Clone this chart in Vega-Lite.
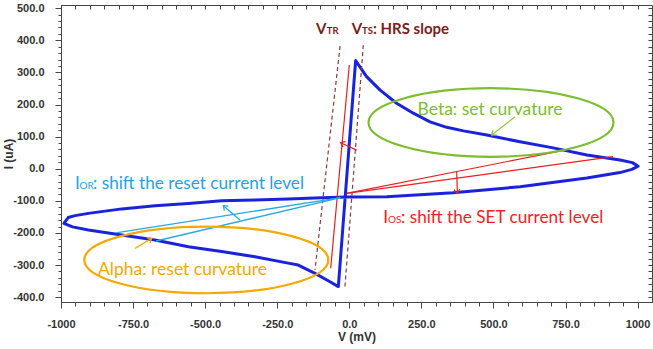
{
  "$schema": "https://vega.github.io/schema/vega-lite/v6.json",
  "width": 591,
  "height": 297,
  "autosize": {"type": "none"},
  "padding": {"left": 61, "top": 5, "right": 1, "bottom": 47},
  "config": {
    "view": {"stroke": "#444", "strokeWidth": 1},
    "axis": {"grid": false, "domainColor": "#444", "tickColor": "#444"}
  },
  "resolve": {"axis": {"x": "independent", "y": "independent"}},
  "layer": [
    {
      "data": {"values": [
        {"k":0,"V":-8,"I":-88},{"k":1,"V":130,"I":-87},{"k":2,"V":360,"I":-75},{"k":3,"V":592,"I":-56},
        {"k":4,"V":824,"I":-29},{"k":5,"V":939,"I":-12},{"k":6,"V":980,"I":-2},{"k":7,"V":1002,"I":8},
        {"k":8,"V":982,"I":19},{"k":9,"V":939,"I":27},{"k":10,"V":824,"I":43},{"k":11,"V":707,"I":65},
        {"k":12,"V":592,"I":84},{"k":13,"V":477,"I":105},{"k":14,"V":396,"I":118},{"k":15,"V":338,"I":129},
        {"k":16,"V":280,"I":146},{"k":17,"V":222,"I":173},{"k":18,"V":164,"I":204},{"k":19,"V":107,"I":245},
        {"k":20,"V":60,"I":287},{"k":21,"V":22,"I":337},{"k":22,"V":-38,"I":-367},{"k":23,"V":-67,"I":-352},
        {"k":24,"V":-119,"I":-326},{"k":25,"V":-177,"I":-300},{"k":26,"V":-212,"I":-294},{"k":27,"V":-327,"I":-274},
        {"k":28,"V":-443,"I":-258},{"k":29,"V":-558,"I":-243},{"k":30,"V":-674,"I":-222},{"k":31,"V":-807,"I":-204},
        {"k":32,"V":-905,"I":-191},{"k":33,"V":-960,"I":-181},{"k":34,"V":-990,"I":-170},{"k":35,"V":-975,"I":-152},
        {"k":36,"V":-951,"I":-146},{"k":37,"V":-905,"I":-139},{"k":38,"V":-789,"I":-125},{"k":39,"V":-674,"I":-115},
        {"k":40,"V":-558,"I":-108},{"k":41,"V":-443,"I":-100},{"k":42,"V":-327,"I":-97},{"k":43,"V":-212,"I":-94},
        {"k":44,"V":-96,"I":-90},{"k":45,"V":-8,"I":-88}
      ]},
      "mark": {"type": "line", "color": "#1a22dc", "strokeWidth": 3, "strokeJoin": "round"},
      "encoding": {
        "x": {"field": "V", "type": "quantitative",
          "scale": {"domain": [-1000, 1050], "nice": false, "zero": false},
          "axis": {"orient": "bottom", "values": [-1000,-750,-500,-250,0,250,500,750,1000],
            "labelExpr": "datum.value == -1000 ? '-1000' : datum.value == 1000 ? '1000' : (datum.value < 0 ? '-' : '') + format(abs(datum.value), '.1f')",
            "tickSize": 6, "labelPadding": 10, "labelDx": 4, "labelFlush": false,
            "labelFont": "Liberation Sans Narrow, Liberation Sans, sans-serif", "labelFontSize": 11, "labelFontWeight": "bold", "labelColor": "#333",
            "title": "V (mV)", "titleFont": "Liberation Sans Narrow, Liberation Sans, sans-serif", "titleFontSize": 12, "titleFontWeight": "bold", "titleColor": "#333", "titlePadding": 2}},
        "y": {"field": "I", "type": "quantitative",
          "scale": {"domain": [-415, 510], "nice": false, "zero": false},
          "axis": {"orient": "left", "values": [-400,-300,-200,-100,0,100,200,300,400,500],
            "labelExpr": "(datum.value < 0 ? '-' : '') + format(abs(datum.value), '.1f')",
            "tickSize": 6, "labelPadding": 11, "labelFlush": false,
            "labelFont": "Liberation Sans Narrow, Liberation Sans, sans-serif", "labelFontSize": 11, "labelFontWeight": "bold", "labelColor": "#333",
            "title": "I (uA)", "titleFont": "Liberation Sans Narrow, Liberation Sans, sans-serif", "titleFontSize": 12, "titleFontWeight": "bold", "titleColor": "#333", "titlePadding": -3}},
        "order": {"field": "k", "type": "quantitative"}
      }
    },
    {
      "data": {"values": [
        {"V": -32, "I": 382, "V2": -119, "I2": -315},
        {"V": 48.6, "I": 385, "V2": -15, "I2": -367}
      ]},
      "mark": {"type": "rule", "color": "#8b3a3a", "strokeWidth": 1.2, "strokeDash": [4, 3]},
      "encoding": {
        "x": {"field": "V", "type": "quantitative",
          "axis": {"orient": "bottom", "values": [-1000,-950,-900,-850,-800,-750,-700,-650,-600,-550,-500,-450,-400,-350,-300,-250,-200,-150,-100,-50,0,50,100,150,200,250,300,350,400,450,500,550,600,650,700,750,800,850,900,950,1000],
            "labels": false, "domain": false, "tickSize": 4, "title": null}},
        "y": {"field": "I", "type": "quantitative",
          "axis": {"orient": "left", "values": [-400,-380,-360,-340,-320,-300,-280,-260,-240,-220,-200,-180,-160,-140,-120,-100,-80,-60,-40,-20,0,20,40,60,80,100,120,140,160,180,200,220,240,260,280,300,320,340,360,380,400,420,440,460,480,500],
            "labels": false, "domain": false, "tickSize": 3, "title": null}},
        "x2": {"field": "V2"},
        "y2": {"field": "I2"}
      }
    },
    {
      "data": {"values": [
        {"V": 0, "I": 323, "V2": -64.5, "I2": -310},
        {"V": -9, "I": -76.5, "V2": 748, "I2": 58},
        {"V": -9, "I": -76.5, "V2": 915, "I2": 37.5},
        {"V": 25.7, "I": 58, "V2": -29.8, "I2": 81},
        {"V": 372.6, "I": -10, "V2": 375, "I2": -76.5}
      ]},
      "mark": {"type": "rule", "color": "#e82020", "strokeWidth": 1.2},
      "encoding": {
        "x": {"field": "V", "type": "quantitative",
          "axis": {"orient": "top", "values": [-1000,-950,-900,-850,-800,-750,-700,-650,-600,-550,-500,-450,-400,-350,-300,-250,-200,-150,-100,-50,0,50,100,150,200,250,300,350,400,450,500,550,600,650,700,750,800,850,900,950,1000],
            "labels": false, "domain": false, "tickSize": -4, "title": null}},
        "y": {"field": "I", "type": "quantitative",
          "axis": {"orient": "right", "values": [-400,-380,-360,-340,-320,-300,-280,-260,-240,-220,-200,-180,-160,-140,-120,-100,-80,-60,-40,-20,0,20,40,60,80,100,120,140,160,180,200,220,240,260,280,300,320,340,360,380,400,420,440,460,480,500],
            "labels": false, "domain": false, "tickSize": -4, "title": null}},
        "x2": {"field": "V2"},
        "y2": {"field": "I2"}
      }
    },
    {
      "data": {"values": [
        {"V": -30, "I": -90, "V2": -810, "I2": -200},
        {"V": -30, "I": -90, "V2": -670, "I2": -225},
        {"V": -379, "I": -159.6, "V2": -437, "I2": -115}
      ]},
      "mark": {"type": "rule", "color": "#29a8e0", "strokeWidth": 1.3},
      "encoding": {
        "x": {"field": "V", "type": "quantitative", "axis": null},
        "y": {"field": "I", "type": "quantitative", "axis": null},
        "x2": {"field": "V2"}, "y2": {"field": "I2"}
      }
    },
    {
      "data": {"values": [{"V": -743, "I": -248, "V2": -685, "I2": -216.6}]},
      "mark": {"type": "rule", "color": "#f5a800", "strokeWidth": 1.2},
      "encoding": {
        "x": {"field": "V", "type": "quantitative", "axis": null},
        "y": {"field": "I", "type": "quantitative", "axis": null},
        "x2": {"field": "V2"}, "y2": {"field": "I2"}
      }
    },
    {
      "data": {"values": [{"V": 575, "I": 162, "V2": 494, "I2": 105}]},
      "mark": {"type": "rule", "color": "#8cc63f", "strokeWidth": 1.2},
      "encoding": {
        "x": {"field": "V", "type": "quantitative", "axis": null},
        "y": {"field": "I", "type": "quantitative", "axis": null},
        "x2": {"field": "V2"}, "y2": {"field": "I2"}
      }
    },
    {
      "data": {"values": [{"V": -29.8, "I": 81}]},
      "mark": {"type": "point", "shape": "M-0.6,0.8L0,0L0.6,0.8", "filled": false, "size": 100, "angle": 294, "color": "#e82020", "strokeWidth": 1.2, "opacity": 1},
      "encoding": {"x": {"field": "V", "type": "quantitative", "axis": null}, "y": {"field": "I", "type": "quantitative", "axis": null}}
    },
    {
      "data": {"values": [{"V": 375, "I": -76.5}]},
      "mark": {"type": "point", "shape": "M-0.6,0.8L0,0L0.6,0.8", "filled": false, "size": 100, "angle": 173, "color": "#e82020", "strokeWidth": 1.2, "opacity": 1},
      "encoding": {"x": {"field": "V", "type": "quantitative", "axis": null}, "y": {"field": "I", "type": "quantitative", "axis": null}}
    },
    {
      "data": {"values": [{"V": -437, "I": -115}]},
      "mark": {"type": "point", "shape": "M-0.6,0.8L0,0L0.6,0.8", "filled": false, "size": 100, "angle": -49, "color": "#29a8e0", "strokeWidth": 1.3, "opacity": 1},
      "encoding": {"x": {"field": "V", "type": "quantitative", "axis": null}, "y": {"field": "I", "type": "quantitative", "axis": null}}
    },
    {
      "data": {"values": [{"V": -685, "I": -216.6}]},
      "mark": {"type": "point", "shape": "M-0.6,0.8L0,0L0.6,0.8", "filled": false, "size": 100, "angle": 59, "color": "#f5a800", "strokeWidth": 1.2, "opacity": 1},
      "encoding": {"x": {"field": "V", "type": "quantitative", "axis": null}, "y": {"field": "I", "type": "quantitative", "axis": null}}
    },
    {
      "data": {"values": [{"V": 494, "I": 105}]},
      "mark": {"type": "point", "shape": "M-0.6,0.8L0,0L0.6,0.8", "filled": false, "size": 100, "angle": -128, "color": "#8cc63f", "strokeWidth": 1.2, "opacity": 1},
      "encoding": {"x": {"field": "V", "type": "quantitative", "axis": null}, "y": {"field": "I", "type": "quantitative", "axis": null}}
    },
    {
      "data": {"values": [{"V": 491.6, "I": 144}]},
      "mark": {"type": "point", "shape": "M-1,0C-1,-0.155,-0.552,-0.28,0,-0.28C0.552,-0.28,1,-0.155,1,0C1,0.155,0.552,0.28,0,0.28C-0.552,0.28,-1,0.155,-1,0Z", "filled": false, "size": 60025, "color": "#7dbd2f", "strokeWidth": 2.2, "opacity": 1},
      "encoding": {"x": {"field": "V", "type": "quantitative", "axis": null}, "y": {"field": "I", "type": "quantitative", "axis": null}}
    },
    {
      "data": {"values": [{"V": -496, "I": -284}]},
      "mark": {"type": "point", "shape": "M-1,0C-1,-0.151,-0.552,-0.273,0,-0.273C0.552,-0.273,1,-0.151,1,0C1,0.151,0.552,0.273,0,0.273C-0.552,0.273,-1,0.151,-1,0Z", "filled": false, "size": 59536, "color": "#f5a800", "strokeWidth": 2.2, "opacity": 1},
      "encoding": {"x": {"field": "V", "type": "quantitative", "axis": null}, "y": {"field": "I", "type": "quantitative", "axis": null}}
    },
    {
      "data": {"values": [{"t": "V", "V": -115.5, "I": 419.7}, {"t": "V", "V": 8.4, "I": 419.7}, {"t": ": HRS slope", "V": 82.2, "I": 419.7}]},
      "mark": {"type": "text", "align": "left", "baseline": "alphabetic", "font": "Lato", "fontWeight": "bold", "fontSize": 15, "color": "#7b1c1c"},
      "encoding": {"x": {"field": "V", "type": "quantitative", "axis": null}, "y": {"field": "I", "type": "quantitative", "axis": null}, "text": {"field": "t"}}
    },
    {
      "data": {"values": [{"t": "TR", "V": -78.4, "I": 419.7}, {"t": "TS", "V": 44.1, "I": 419.7}]},
      "mark": {"type": "text", "align": "left", "baseline": "alphabetic", "font": "Lato", "fontWeight": "bold", "fontSize": 9.5, "color": "#7b1c1c"},
      "encoding": {"x": {"field": "V", "type": "quantitative", "axis": null}, "y": {"field": "I", "type": "quantitative", "axis": null}, "text": {"field": "t"}}
    },
    {
      "data": {"values": [{"t": "I", "V": -951.4, "I": -64}, {"t": ": shift the reset current level", "V": -889, "I": -64}]},
      "mark": {"type": "text", "align": "left", "baseline": "alphabetic", "font": "Lato", "fontSize": 17.2, "color": "#1ea3e6"},
      "encoding": {"x": {"field": "V", "type": "quantitative", "axis": null}, "y": {"field": "I", "type": "quantitative", "axis": null}, "text": {"field": "t"}}
    },
    {
      "data": {"values": [{"t": "OR", "V": -935.8, "I": -64}]},
      "mark": {"type": "text", "align": "left", "baseline": "alphabetic", "font": "Lato", "fontSize": 10, "color": "#1ea3e6"},
      "encoding": {"x": {"field": "V", "type": "quantitative", "axis": null}, "y": {"field": "I", "type": "quantitative", "axis": null}, "text": {"field": "t"}}
    },
    {
      "data": {"values": [{"t": "I", "V": 118, "I": -168}, {"t": ": shift the SET current level", "V": 179.4, "I": -168}]},
      "mark": {"type": "text", "align": "left", "baseline": "alphabetic", "font": "Lato", "fontSize": 17.2, "color": "#f01e1e"},
      "encoding": {"x": {"field": "V", "type": "quantitative", "axis": null}, "y": {"field": "I", "type": "quantitative", "axis": null}, "text": {"field": "t"}}
    },
    {
      "data": {"values": [{"t": "OS", "V": 134.3, "I": -168}]},
      "mark": {"type": "text", "align": "left", "baseline": "alphabetic", "font": "Lato", "fontSize": 10, "color": "#f01e1e"},
      "encoding": {"x": {"field": "V", "type": "quantitative", "axis": null}, "y": {"field": "I", "type": "quantitative", "axis": null}, "text": {"field": "t"}}
    },
    {
      "data": {"values": [{"t": "Beta: set curvature", "V": 488, "I": 167.4}]},
      "mark": {"type": "text", "align": "center", "baseline": "alphabetic", "font": "Lato", "fontSize": 17.5, "color": "#7dbd2f"},
      "encoding": {"x": {"field": "V", "type": "quantitative", "axis": null}, "y": {"field": "I", "type": "quantitative", "axis": null}, "text": {"field": "t"}}
    },
    {
      "data": {"values": [{"t": "Alpha: reset curvature", "V": -578.5, "I": -331}]},
      "mark": {"type": "text", "align": "center", "baseline": "alphabetic", "font": "Lato", "fontSize": 17.5, "color": "#f5a800"},
      "encoding": {"x": {"field": "V", "type": "quantitative", "axis": null}, "y": {"field": "I", "type": "quantitative", "axis": null}, "text": {"field": "t"}}
    }
  ]
}
